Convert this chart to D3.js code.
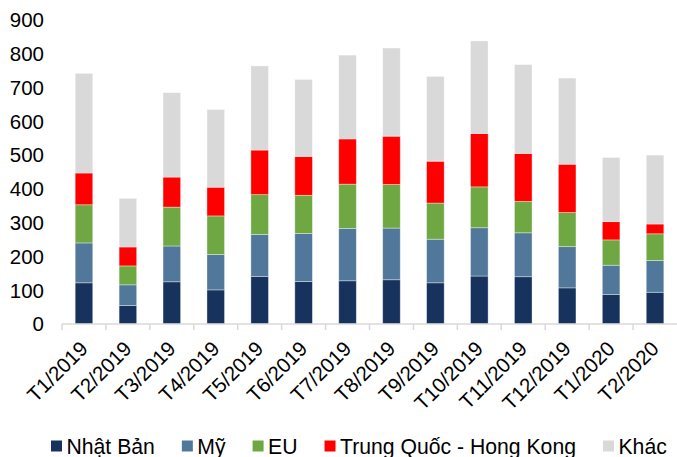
<!DOCTYPE html>
<html>
<head>
<meta charset="utf-8">
<script src="https://cdn.jsdelivr.net/npm/d3@7"></script>
<style>
  html, body { margin: 0; padding: 0; background: #fff; }
  svg { display: block; }
</style>
</head>
<body>
<svg id="svg"></svg>
<script>
const months = ["T1/2019", "T2/2019", "T3/2019", "T4/2019", "T5/2019", "T6/2019", "T7/2019",
  "T8/2019", "T9/2019", "T10/2019", "T11/2019", "T12/2019", "T1/2020", "T2/2020"];
const nhatBan = [122, 55, 125, 101, 141, 126, 128, 131, 122, 142, 140, 107, 87, 94];
const my = [118, 61, 106, 105, 124, 142, 155, 153, 129, 143, 130, 122, 87, 94];
const eu = [113, 56, 115, 114, 118, 113, 131, 129, 107, 121, 93, 101, 75, 79];
const trungQuoc = [94, 56, 89, 85, 132, 115, 134, 143, 124, 158, 142, 143, 54, 29];
const khac = [295, 144, 250, 230, 249, 228, 248, 261, 251, 274, 263, 255, 190, 204];
const seriesNames = ["Nhật Bản", "Mỹ", "EU", "Trung Quốc - Hong Kong", "Khác"];
const yTicks = [0, 100, 200, 300, 400, 500, 600, 700, 800, 900];

const width = 677;
const height = 457;
const colors = ["#17335d", "#51779a", "#6fa843", "#ff0000", "#d9d9d9"];
const font = "Arial, 'Liberation Sans', sans-serif";

const svg = d3.select("#svg")
  .attr("width", width)
  .attr("height", height)
  .attr("viewBox", [0, 0, width, height])
  .attr("font-family", font);

const table = months.map((m, i) => ({
  month: m,
  "Nhật Bản": nhatBan[i],
  "Mỹ": my[i],
  "EU": eu[i],
  "Trung Quốc - Hong Kong": trungQuoc[i],
  "Khác": khac[i]
}));

const stacked = d3.stack().keys(seriesNames)(table);

const x = d3.scaleBand(months, [62, 677]).padding(0);
const y = d3.scaleLinear([0, 900], [324, 20]);
const barW = x.bandwidth() * 0.4;

// y labels (no axis line, no gridlines)
svg.append("g")
  .selectAll("text")
  .data(yTicks)
  .join("text")
  .attr("x", 44)
  .attr("y", d => y(d))
  .attr("dy", "0.36em")
  .attr("text-anchor", "end")
  .attr("font-size", 20.5)
  .attr("fill", "#000")
  .text(d => d);

// bars
svg.append("g")
  .selectAll("g")
  .data(stacked)
  .join("g")
  .attr("fill", (d, i) => colors[i])
  .selectAll("rect")
  .data(d => d)
  .join("rect")
  .attr("x", d => x(d.data.month) + (x.bandwidth() - barW) / 2)
  .attr("y", d => y(d[1]))
  .attr("width", barW)
  .attr("height", d => y(d[0]) - y(d[1]))
  .attr("stroke", "#ffffff")
  .attr("stroke-opacity", 0.45)
  .attr("stroke-width", 0.8);

// x axis line and ticks between categories
const xAxis = svg.append("g");
xAxis.append("line")
  .attr("x1", 62).attr("x2", 677)
  .attr("y1", y(0)).attr("y2", y(0))
  .attr("stroke", "#d9d9d9").attr("stroke-width", 1.5);
xAxis.selectAll("line.tick")
  .data(months)
  .join("line")
  .attr("class", "tick")
  .attr("x1", d => x(d)).attr("x2", d => x(d))
  .attr("y1", y(0)).attr("y2", y(0) + 6)
  .attr("stroke", "#d9d9d9").attr("stroke-width", 1.5);

xAxis.selectAll("text")
  .data(months)
  .join("text")
  .attr("text-anchor", "end")
  .attr("font-size", 20.5)
  .attr("fill", "#000")
  .attr("transform", d => "translate(" + (x(d) + x.bandwidth() / 2 + 5) + ",350) rotate(-45)")
  .text(d => d);

// legend
const legend = svg.append("g").attr("transform", "translate(51,446)");
let lx = 0;
seriesNames.forEach((name, i) => {
  const item = legend.append("g").attr("transform", "translate(" + lx + ",0)");
  item.append("rect")
    .attr("x", 0).attr("y", -5.5)
    .attr("width", 11).attr("height", 11)
    .attr("fill", colors[i]);
  const t = item.append("text")
    .attr("x", 15.5)
    .attr("dy", "0.36em")
    .attr("font-size", 21.2)
    .attr("fill", "#000")
    .text(name);
  lx += 15.5 + t.node().getComputedTextLength() + 27;
});
</script>
</body>
</html>
